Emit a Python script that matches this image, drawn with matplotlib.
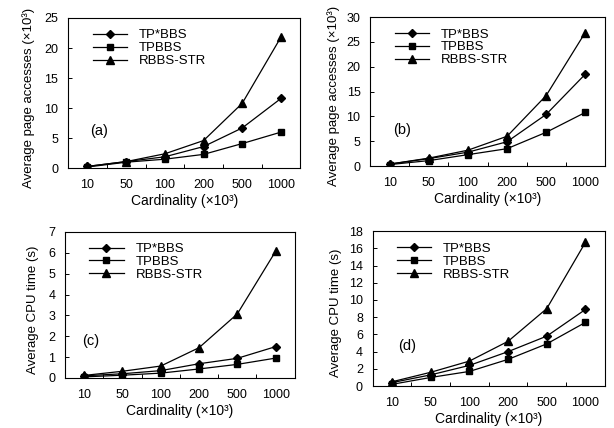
import matplotlib
matplotlib.use('Agg')
import matplotlib.pyplot as plt
import numpy as np

plt.rcParams['font.family'] = ['Liberation Sans', 'DejaVu Sans']

cardinality = ['10', '50', '100', '200', '500', '1000']
series_names = ['TP*BBS', 'TPBBS', 'RBBS-STR']
markers = ['D', 's', '^']
msizes = [4.0, 4.5, 5.5]

# (a) page accesses, dataset 1
page_a_tpstar = [0.3, 1.1, 1.9, 3.6, 6.7, 11.6]
page_a_tpbbs = [0.2, 1.0, 1.5, 2.3, 4.1, 6.0]
page_a_rbbs = [0.3, 1.1, 2.4, 4.6, 10.8, 21.8]

# (b) page accesses, dataset 2
page_b_tpstar = [0.4, 1.5, 2.8, 4.9, 10.4, 18.5]
page_b_tpbbs = [0.3, 1.1, 2.3, 3.5, 6.8, 10.8]
page_b_rbbs = [0.4, 1.6, 3.2, 6.0, 14.2, 26.9]

# (c) CPU time, dataset 1
cpu_c_tpstar = [0.1, 0.2, 0.35, 0.68, 0.94, 1.5]
cpu_c_tpbbs = [0.05, 0.13, 0.23, 0.43, 0.65, 0.95]
cpu_c_rbbs = [0.12, 0.32, 0.57, 1.45, 3.07, 6.07]

# (d) CPU time, dataset 2
cpu_d_tpstar = [0.4, 1.3, 2.4, 4.0, 5.8, 8.9]
cpu_d_tpbbs = [0.2, 1.0, 1.7, 3.1, 4.9, 7.4]
cpu_d_rbbs = [0.5, 1.6, 2.9, 5.2, 9.0, 16.7]

panels = [
    ('(a)', [page_a_tpstar, page_a_tpbbs, page_a_rbbs], 25, 5,
     'Average page accesses (×10³)', [0.111, 0.607, 0.378, 0.351], (0.095, 0.25), 7),
    ('(b)', [page_b_tpstar, page_b_tpbbs, page_b_rbbs], 30, 5,
     'Average page accesses (×10³)', [0.603, 0.612, 0.382, 0.348], (0.098, 0.24), 5),
    ('(c)', [cpu_c_tpstar, cpu_c_tpbbs, cpu_c_rbbs], 7, 1,
     'Average CPU time (s)', [0.106, 0.117, 0.374, 0.341], (0.074, 0.25), 7),
    ('(d)', [cpu_d_tpstar, cpu_d_tpbbs, cpu_d_rbbs], 18, 2,
     'Average CPU time (s)', [0.607, 0.098, 0.378, 0.362], (0.11, 0.26), 5),
]

fig = plt.figure(figsize=(6.14, 4.28), dpi=100)

for tag, values, ymax, ystep, ylabel, rect, tagpos, ypad in panels:
    ax = fig.add_axes(rect)
    x = np.arange(len(cardinality))
    for name, vals, mk, ms in zip(series_names, values, markers, msizes):
        ax.plot(x, vals, color='black', lw=0.9, marker=mk, ms=ms,
                markerfacecolor='black', markeredgecolor='black', label=name)
    ax.set_xlim(-0.5, len(cardinality) - 0.5)
    ax.set_ylim(0, ymax)
    ax.set_yticks(np.arange(0, ymax + ystep, ystep))
    ax.set_xticks(x)
    ax.set_xticklabels(cardinality)
    ax.set_xticks(x[:-1] + 0.5, minor=True)
    ax.tick_params(axis='x', which='major', length=0, pad=8, labelsize=9)
    ax.tick_params(axis='x', which='minor', direction='in', length=3, width=0.7)
    ax.tick_params(axis='y', direction='in', length=3, width=0.7, pad=7, labelsize=9)
    for sp in ax.spines.values():
        sp.set_linewidth(0.8)
    ax.set_xlabel('Cardinality (×10³)', fontsize=10, labelpad=2)
    ax.set_ylabel(ylabel, fontsize=9.5, labelpad=ypad)
    ax.yaxis.label.set_y(0.47)
    ax.text(tagpos[0], tagpos[1], tag, transform=ax.transAxes, fontsize=10.5,
            va='center', ha='left')
    ax.legend(loc='upper left', bbox_to_anchor=(0.105, 0.925), frameon=False,
              fontsize=9.5, handlelength=2.6, handletextpad=0.9,
              labelspacing=0.05, borderpad=0, borderaxespad=0)

fig.savefig('out.png', dpi=100)
